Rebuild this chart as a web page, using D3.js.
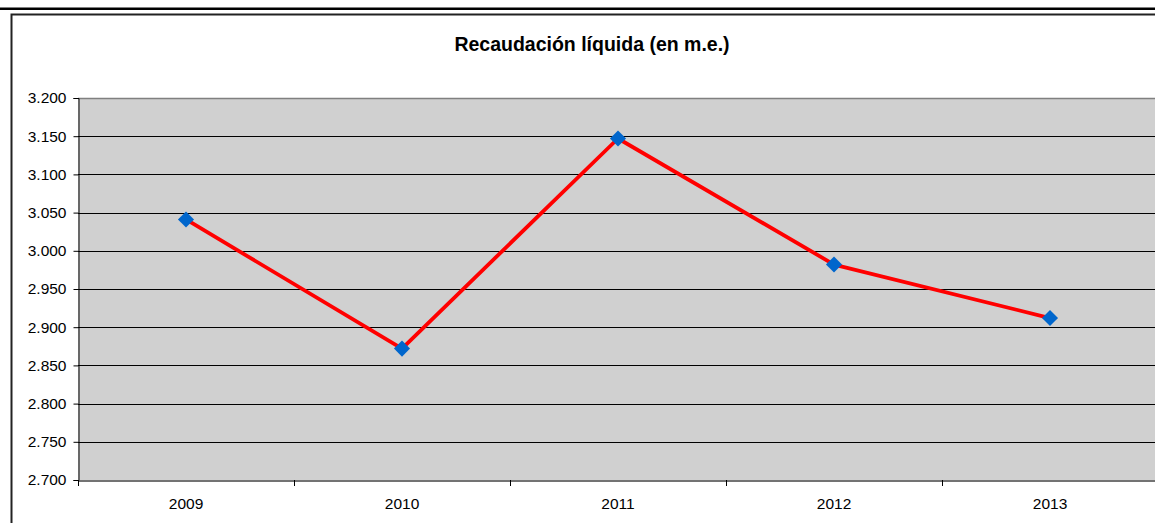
<!DOCTYPE html>
<html>
<head>
<meta charset="utf-8">
<script src="https://cdn.jsdelivr.net/npm/d3@7"></script>
<style>
  body { margin: 0; background: #fff; }
  svg { display: block; font-family: "Liberation Sans", Arial, sans-serif; }
</style>
</head>
<body>
<script>
var years = ['2009', '2010', '2011', '2012', '2013'];
var recaudacion = [3041, 2872, 3147, 2982, 2912];
var yTicks = [2700, 2750, 2800, 2850, 2900, 2950, 3000, 3050, 3100, 3150, 3200];
var title = 'Recaudación líquida (en m.e.)';

var width = 1155, height = 523;
var plot = { left: 78, top: 98, right: 1158, bottom: 480 };

var svg = d3.select('body')
  .append('svg')
    .attr('width', width)
    .attr('height', height);

// top rule and chart frame
svg.append('rect')
  .attr('x', 0).attr('y', 7.5)
  .attr('width', width).attr('height', 2.5)
  .attr('fill', '#000');
svg.append('path')
  .attr('d', 'M11.5,' + height + 'V14.5H' + width)
  .attr('fill', 'none')
  .attr('stroke', '#222')
  .attr('stroke-width', 2);

var x = d3.scaleBand()
  .domain(years)
  .range([plot.left, plot.right]);

var y = d3.scaleLinear()
  .domain([2700, 3200])
  .range([plot.bottom, plot.top]);

svg.append('rect')
  .attr('x', plot.left).attr('y', plot.top)
  .attr('width', plot.right - plot.left)
  .attr('height', plot.bottom - plot.top)
  .attr('fill', '#d0d0d0');

// gridlines
svg.selectAll('line.grid')
  .data(yTicks.slice(1, -1))
  .enter()
  .append('line')
    .attr('class', 'grid')
    .attr('x1', plot.left).attr('x2', plot.right)
    .attr('y1', function(d){ return Math.round(y(d)) + 0.5; })
    .attr('y2', function(d){ return Math.round(y(d)) + 0.5; })
    .attr('stroke', '#000')
    .attr('stroke-width', 1);

// top border of plot area
svg.append('line')
  .attr('x1', plot.left).attr('x2', plot.right)
  .attr('y1', plot.top + 0.5).attr('y2', plot.top + 0.5)
  .attr('stroke', '#808080').attr('stroke-width', 1.5);

// y axis
var yAxis = svg.append('g')
  .attr('transform', 'translate(' + (plot.left + 0.5) + ',0)')
  .call(d3.axisLeft(y)
    .tickValues(yTicks)
    .tickSize(5)
    .tickPadding(7)
    .tickFormat(function(d){ return d3.format(',.3f')(d / 1000).replace(',', ''); }));
yAxis.attr('font-size', 15.5).attr('font-family', '"Liberation Sans", Arial, sans-serif');
yAxis.select('.domain').attr('stroke', '#000');
yAxis.selectAll('.tick line').attr('stroke', '#000');
yAxis.selectAll('text').attr('fill', '#000');

// x axis
var xAxis = svg.append('g')
  .attr('transform', 'translate(0,' + (plot.bottom + 0.5) + ')')
  .call(d3.axisBottom(x).tickSize(0).tickPadding(17));
xAxis.attr('font-size', 15.5).attr('font-family', '"Liberation Sans", Arial, sans-serif');
xAxis.select('.domain').attr('stroke', '#444').attr('stroke-width', 1.5);
xAxis.selectAll('text').attr('fill', '#000');

// category separators on x axis
svg.selectAll('line.xsep')
  .data(years.concat(['end']))
  .enter()
  .append('line')
    .attr('class', 'xsep')
    .attr('x1', function(d, i){ return Math.round(plot.left + i * x.step()) + 0.5; })
    .attr('x2', function(d, i){ return Math.round(plot.left + i * x.step()) + 0.5; })
    .attr('y1', plot.bottom)
    .attr('y2', plot.bottom + 6)
    .attr('stroke', '#000');

// series line
var line = d3.line()
  .x(function(d, i){ return x(years[i]) + x.bandwidth() / 2; })
  .y(function(d){ return y(d); });

svg.append('path')
  .datum(recaudacion)
  .attr('d', line)
  .attr('fill', 'none')
  .attr('stroke', '#ff0000')
  .attr('stroke-width', 3.8)
  .attr('stroke-linejoin', 'round');

// diamond markers
svg.selectAll('path.marker')
  .data(recaudacion)
  .enter()
  .append('path')
    .attr('class', 'marker')
    .attr('d', d3.symbol().type(d3.symbolDiamond2).size(165))
    .attr('transform', function(d, i){
      return 'translate(' + (x(years[i]) + x.bandwidth() / 2) + ',' + y(d) + ')';
    })
    .attr('fill', '#0066cc');

// title
svg.append('text')
  .attr('x', 592)
  .attr('y', 51)
  .attr('text-anchor', 'middle')
  .attr('font-size', 19.5)
  .attr('font-weight', 'bold')
  .attr('fill', '#000')
  .text(title);
</script>
</body>
</html>
